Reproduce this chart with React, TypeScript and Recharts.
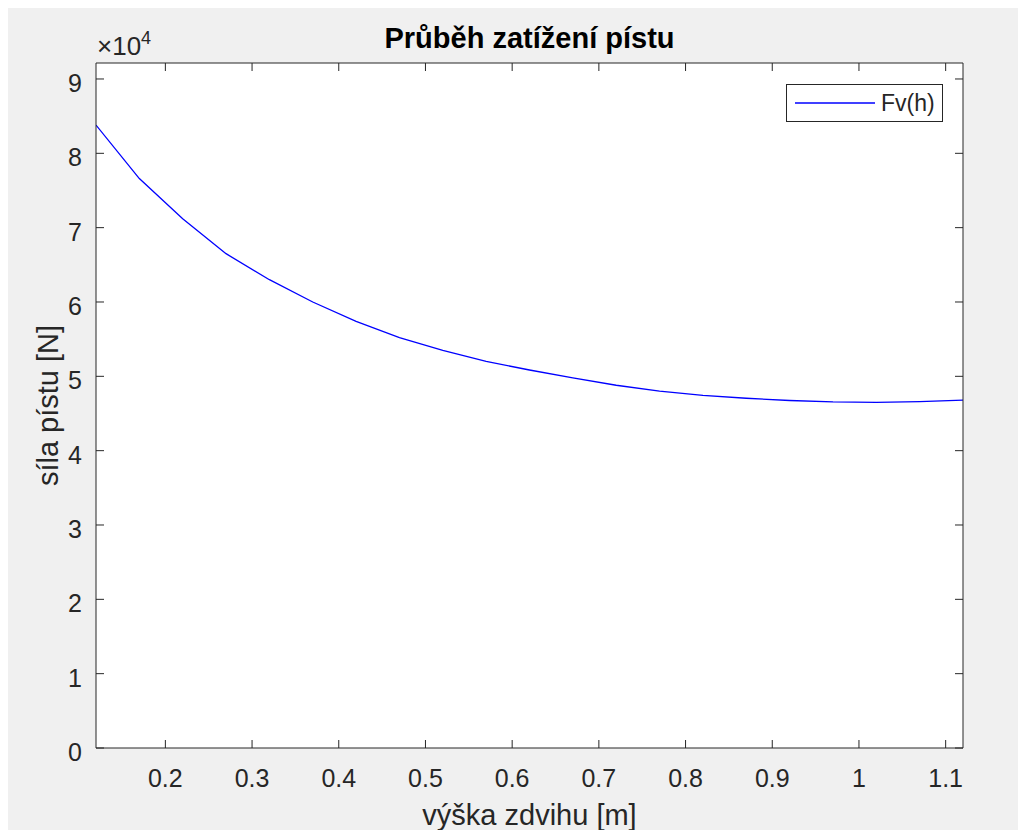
import React from 'react';
import { LineChart, Line, XAxis, YAxis, CartesianGrid, Legend, Label } from 'recharts';

const heights = [0.12, 0.17, 0.22, 0.27, 0.32, 0.37, 0.42, 0.47, 0.52, 0.57, 0.62, 0.67, 0.72, 0.77, 0.82, 0.87, 0.92, 0.97, 1.02, 1.07, 1.12];
const forces = [83800, 76600, 71200, 66500, 63000, 60000, 57400, 55200, 53500, 52000, 50850, 49800, 48800, 48000, 47450, 47050, 46750, 46550, 46500, 46600, 46800];
const xTicks = [0.2, 0.3, 0.4, 0.5, 0.6, 0.7, 0.8, 0.9, 1, 1.1];
const yTicks = [0, 10000, 20000, 30000, 40000, 50000, 60000, 70000, 80000, 90000];

const data = heights.map((h, i) => ({ h, force: forces[i] }));

const W = 1018;
const H = 822;
// axes are 1px thick, so plot area = margin + 1
const margin = { top: 54, right: 62, bottom: 81, left: 87 };
const plotLeft = margin.left + 1;
const plotRight = W - margin.right - 1;
const plotTop = margin.top + 1;
const plotBottom = H - margin.bottom - 1;
const midX = (plotLeft + plotRight) / 2;
const midY = (plotTop + plotBottom) / 2;

const FONT = '"Liberation Sans", Arial, Helvetica, sans-serif';
const AX = '#262626';
const TICK = 8;

const LeftTick = ({ x, y, payload }: any) => (
  <g>
    <line x1={x} x2={x + TICK} y1={y} y2={y} stroke={AX} />
    <text x={x - 14} y={y + 13} textAnchor="end" fontSize={25} fontFamily={FONT} fill={AX}>
      {Math.round(payload.value / 10000)}
    </text>
  </g>
);

const RightTick = ({ x, y }: any) => <line x1={x} x2={x - TICK} y1={y} y2={y} stroke={AX} />;

const BottomTick = ({ x, y, payload }: any) => (
  <g>
    <line x1={x} x2={x} y1={y} y2={y - TICK} stroke={AX} />
    <text x={x} y={y + 39} textAnchor="middle" fontSize={25} fontFamily={FONT} fill={AX}>
      {String(Math.round(payload.value * 10) / 10)}
    </text>
  </g>
);

const TopTick = ({ x, y }: any) => <line x1={x} x2={x} y1={y} y2={y + TICK} stroke={AX} />;

const LegendBox = () => (
  <div
    style={{
      width: 157,
      height: 38,
      boxSizing: 'border-box',
      border: `1px solid ${AX}`,
      background: '#fff',
      display: 'flex',
      alignItems: 'center',
      fontFamily: FONT,
      fontSize: 23,
      color: AX,
    }}
  >
    <svg width={80} height={4} style={{ marginLeft: 8, marginRight: 6 }}>
      <line x1={0} x2={80} y1={2} y2={2} stroke="#0000ff" strokeWidth={1.5} />
    </svg>
    <span>Fv(h)</span>
  </div>
);

export default function App() {
  return (
    <div style={{ width: W, height: H, background: '#f0f0f0' }}>
      <LineChart width={W} height={H} data={data} margin={margin}>
        <CartesianGrid horizontal={false} vertical={false} fill="#ffffff" />
        <XAxis
          dataKey="h"
          type="number"
          domain={[0.12, 1.12]}
          ticks={xTicks}
          allowDataOverflow
          height={1}
          tickSize={0}
          tickMargin={0}
          tickLine={false}
          axisLine={{ stroke: AX }}
          tick={<BottomTick />}
          interval={0}
        >
          <Label
            content={() => (
              <text x={midX} y={plotBottom + 77} textAnchor="middle" fontSize={29} fontFamily={FONT} fill={AX}>
                výška zdvihu [m]
              </text>
            )}
          />
        </XAxis>
        <XAxis
          xAxisId="top"
          dataKey="h"
          orientation="top"
          type="number"
          domain={[0.12, 1.12]}
          ticks={xTicks}
          allowDataOverflow
          height={1}
          tickSize={0}
          tickMargin={0}
          tickLine={false}
          axisLine={{ stroke: AX }}
          tick={<TopTick />}
          interval={0}
        >
          <Label
            content={() => (
              <text x={midX} y={plotTop - 15} textAnchor="middle" fontSize={29} fontWeight="bold" fontFamily={FONT} fill="#000">
                Průběh zatížení pístu
              </text>
            )}
          />
        </XAxis>
        <YAxis
          type="number"
          domain={[0, 92150]}
          ticks={yTicks}
          allowDataOverflow
          width={1}
          tickSize={0}
          tickMargin={0}
          tickLine={false}
          axisLine={{ stroke: AX }}
          tick={<LeftTick />}
          interval={0}
        >
          <Label
            content={() => (
              <g>
                <text
                  x={50}
                  y={midY}
                  transform={`rotate(-90, 50, ${midY})`}
                  textAnchor="middle"
                  fontSize={29}
                  fontFamily={FONT}
                  fill={AX}
                >
                  síla pístu [N]
                </text>
                <text x={plotLeft + 1} y={plotTop - 8} fontSize={26} fontFamily={FONT} fill={AX}>
                  ×10
                  <tspan dy={-11} fontSize={18}>4</tspan>
                </text>
              </g>
            )}
          />
        </YAxis>
        <YAxis
          yAxisId="right"
          orientation="right"
          type="number"
          domain={[0, 92150]}
          ticks={yTicks}
          allowDataOverflow
          width={1}
          tickSize={0}
          tickMargin={0}
          tickLine={false}
          axisLine={{ stroke: AX }}
          tick={<RightTick />}
          interval={0}
        />
        <Legend
          layout="vertical"
          align="center"
          verticalAlign="middle"
          wrapperStyle={{ top: 76, left: 778, width: 157 }}
          content={<LegendBox />}
        />
        <Line
          type="linear"
          dataKey="force"
          name="Fv(h)"
          stroke="#0000ff"
          strokeWidth={1.3}
          dot={false}
          isAnimationActive={false}
        />
      </LineChart>
    </div>
  );
}
